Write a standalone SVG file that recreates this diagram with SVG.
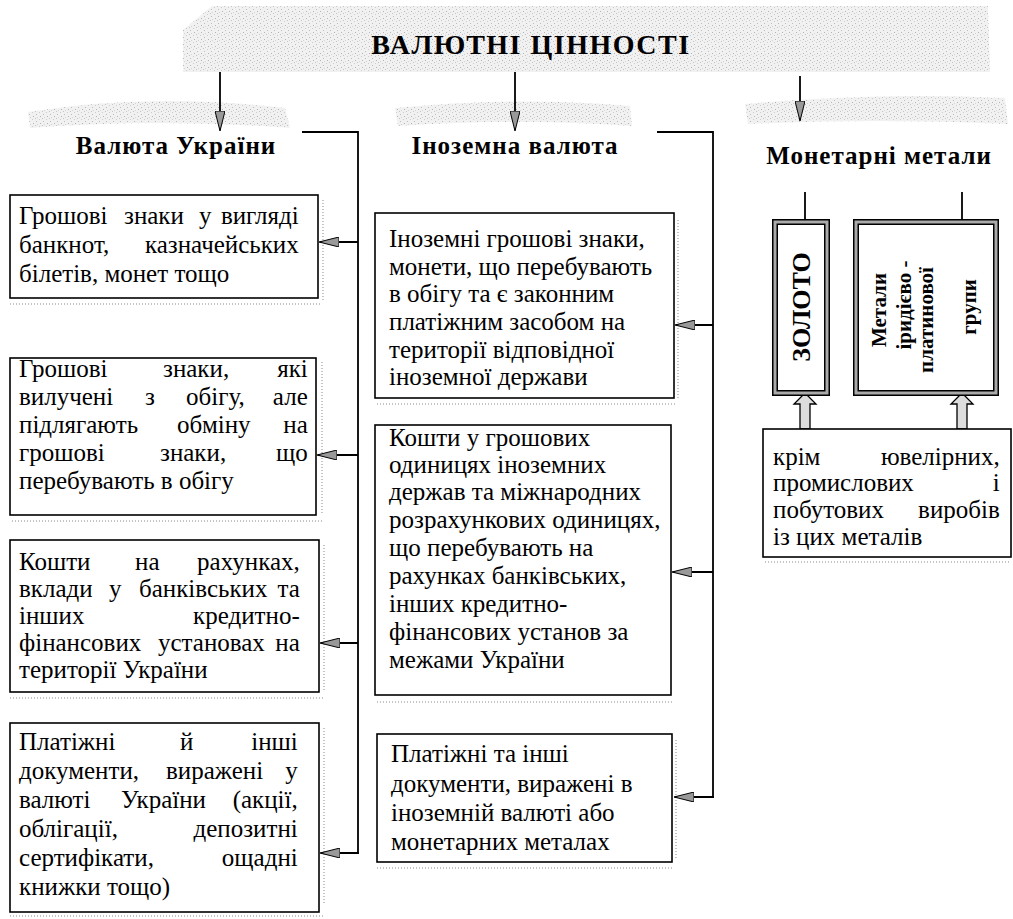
<svg xmlns="http://www.w3.org/2000/svg" width="1013" height="919" viewBox="0 0 1013 919">
<style>
.bg{fill:url(#noise)}
.box{fill:#fff;stroke:#000;stroke-width:1.6}
.t{font-family:"Liberation Serif","Times New Roman",serif;font-size:25px;fill:#000}
.tm{font-family:"Liberation Serif","Times New Roman",serif;font-size:25px;fill:#000}
.h{font-family:"Liberation Serif","Times New Roman",serif;font-size:25px;font-weight:bold;letter-spacing:1px;fill:#000}
.title{font-family:"Liberation Serif","Times New Roman",serif;font-size:28px;font-weight:bold;letter-spacing:1.5px;fill:#000}
.vt{font-family:"Liberation Serif","Times New Roman",serif;font-weight:bold;fill:#000}
.ln{fill:none;stroke:#000;stroke-width:1.8}
.e{text-anchor:end}
.m{text-anchor:middle}
.sh{fill:none;stroke:#c4c4c4;stroke-width:2;stroke-dasharray:1 2}
</style>
<defs>
<pattern id="noise" width="7" height="7" patternUnits="userSpaceOnUse">
<rect width="7" height="7" fill="#f1f1f1"/>
<rect x="1" y="2" width="1" height="1" fill="#bcbcbc"/>
<rect x="4" y="0" width="1" height="1" fill="#cccccc"/>
<rect x="5" y="4" width="1" height="1" fill="#b4b4b4"/>
<rect x="2" y="5" width="1" height="1" fill="#d4d4d4"/>
<rect x="0" y="6" width="1" height="1" fill="#c4c4c4"/>
</pattern>
<marker id="ah" viewBox="0 0 20 10" refX="19" refY="5" markerWidth="20" markerHeight="10" markerUnits="userSpaceOnUse" orient="auto">
<path d="M0,0 L20,5 L0,10 Z" fill="#999" stroke="#000" stroke-width="1"/>
</marker>
</defs>

<g id="backgrounds">
<path class="bg" d="M183,30 L212,6 L988,6 L990,72 L183,72 Z"/>
<path class="bg" d="M28,112 Q150,92 285,108 L290,128 Q160,118 30,128 Z"/>
<path class="bg" d="M395,108 Q520,96 630,106 L632,126 Q520,118 398,126 Z"/>
<path class="bg" d="M745,104 Q880,92 1005,98 L1008,124 Q880,118 748,124 Z"/>
<path class="sh" d="M10,304 H322 M12,521 H322 M10,698 H324 M10,916 H324 M323,200 V300 M322,362 V515 M324,545 V690 M324,728 V905 M377,404 H677 M377,702 H672 M377,868 H674 M678,220 V400 M676,740 V860 M765,562 H1011"/>
</g>

<g id="title">
<text class="title m" x="531" y="54">ВАЛЮТНІ ЦІННОСТІ</text>
</g>

<g id="connectors">
<line class="ln" x1="220" y1="72" x2="220" y2="130" marker-end="url(#ah)"/>
<line class="ln" x1="515" y1="72" x2="515" y2="130" marker-end="url(#ah)"/>
<line class="ln" x1="800" y1="76" x2="800" y2="120" marker-end="url(#ah)"/>
<polyline class="ln" points="302,132 358,132 358,853"/>
<line class="ln" x1="358" y1="242" x2="320" y2="242" marker-end="url(#ah)"/>
<line class="ln" x1="358" y1="455" x2="318" y2="455" marker-end="url(#ah)"/>
<line class="ln" x1="358" y1="643" x2="321" y2="643" marker-end="url(#ah)"/>
<line class="ln" x1="359" y1="853" x2="321" y2="853" marker-end="url(#ah)"/>
<polyline class="ln" points="657,132 713,132 713,797"/>
<line class="ln" x1="713" y1="325" x2="676" y2="325" marker-end="url(#ah)"/>
<line class="ln" x1="713" y1="572" x2="673" y2="572" marker-end="url(#ah)"/>
<line class="ln" x1="714" y1="797" x2="675" y2="797" marker-end="url(#ah)"/>
<line class="ln" x1="805" y1="192" x2="805" y2="222"/>
<line class="ln" x1="962" y1="192" x2="962" y2="222"/>
<path d="M800,429 L800,404 L794,404 L805,393 L816,404 L810,404 L810,429 Z" fill="#ddd" stroke="#000" stroke-width="1.3"/>
<path d="M957,429 L957,404 L951,404 L962,393 L973,404 L967,404 L967,429 Z" fill="#ddd" stroke="#000" stroke-width="1.3"/>
</g>

<g id="h-ukr"><text class="h m" x="176" y="154">Валюта України</text></g>
<g id="h-for"><text class="h m" x="515" y="154">Іноземна валюта</text></g>
<g id="h-met"><text class="h m" x="879" y="164">Монетарні метали</text></g>

<g id="l1">
<rect class="box" x="10" y="195" width="308" height="103"/>
<text class="t"><tspan x="19" y="224">Грошові</tspan><tspan x="124" y="224">знаки</tspan><tspan x="199" y="224">у</tspan><tspan class="e" x="305" y="224">вигляді</tspan>
<tspan x="19" y="253">банкнот,</tspan><tspan class="e" x="305" y="253">казначейських</tspan>
<tspan x="19" y="282">білетів, монет тощо</tspan></text>
</g>

<g id="l2">
<rect class="box" x="10" y="358" width="306" height="157"/>
<text class="t"><tspan x="19" y="377">Грошові</tspan><tspan x="163" y="377">знаки,</tspan><tspan class="e" x="314" y="377">які</tspan>
<tspan x="19" y="405">вилучені</tspan><tspan x="145" y="405">з</tspan><tspan x="186" y="405">обігу,</tspan><tspan class="e" x="314" y="405">але</tspan>
<tspan x="19" y="433">підлягають</tspan><tspan x="177" y="433">обміну</tspan><tspan class="e" x="314" y="433">на</tspan>
<tspan x="19" y="461">грошові</tspan><tspan x="160" y="461">знаки,</tspan><tspan class="e" x="314" y="461">що</tspan>
<tspan x="19" y="489">перебувають в обігу</tspan></text>
</g>

<g id="l3">
<rect class="box" x="10" y="540" width="309" height="152"/>
<text class="t"><tspan x="19" y="570">Кошти</tspan><tspan x="135" y="570">на</tspan><tspan class="e" x="306" y="570">рахунках,</tspan>
<tspan x="19" y="597">вклади</tspan><tspan x="109" y="597">у</tspan><tspan x="139" y="597">банківських</tspan><tspan class="e" x="306" y="597">та</tspan>
<tspan x="19" y="624">інших</tspan><tspan class="e" x="306" y="624">кредитно-</tspan>
<tspan x="19" y="651">фінансових</tspan><tspan x="158" y="651">установах</tspan><tspan class="e" x="306" y="651">на</tspan>
<tspan x="19" y="678">території України</tspan></text>
</g>

<g id="l4">
<rect class="box" x="10" y="723" width="309" height="189"/>
<text class="t"><tspan x="19" y="750">Платіжні</tspan><tspan x="180" y="750">й</tspan><tspan class="e" x="304" y="750">інші</tspan>
<tspan x="19" y="779">документи,</tspan><tspan x="166" y="779">виражені</tspan><tspan class="e" x="304" y="779">у</tspan>
<tspan x="19" y="808">валюті</tspan><tspan x="121" y="808">України</tspan><tspan class="e" x="304" y="808">(акції,</tspan>
<tspan x="19" y="837">облігації,</tspan><tspan class="e" x="304" y="837">депозитні</tspan>
<tspan x="19" y="866">сертифікати,</tspan><tspan class="e" x="304" y="866">ощадні</tspan>
<tspan x="19" y="895">книжки тощо)</tspan></text>
</g>

<g id="m1">
<rect class="box" x="375" y="213" width="299" height="185"/>
<text class="tm"><tspan x="389" y="247">Іноземні грошові знаки,</tspan>
<tspan x="389" y="275">монети, що перебувають</tspan>
<tspan x="389" y="302">в обігу та є законним</tspan>
<tspan x="389" y="330">платіжним засобом на</tspan>
<tspan x="389" y="358">території відповідної</tspan>
<tspan x="389" y="385">іноземної держави</tspan></text>
</g>

<g id="m2">
<rect class="box" x="375" y="425" width="296" height="270"/>
<text class="tm"><tspan x="389" y="446">Кошти у грошових</tspan>
<tspan x="389" y="473">одиницях іноземних</tspan>
<tspan x="389" y="500">держав та міжнародних</tspan>
<tspan x="389" y="528">розрахункових одиницях,</tspan>
<tspan x="389" y="556">що перебувають на</tspan>
<tspan x="389" y="584">рахунках банківських,</tspan>
<tspan x="389" y="612">інших кредитно-</tspan>
<tspan x="389" y="640">фінансових установ за</tspan>
<tspan x="389" y="668">межами України</tspan></text>
</g>

<g id="m3">
<rect class="box" x="377" y="734" width="295" height="128"/>
<text class="tm"><tspan x="391" y="762">Платіжні та інші</tspan>
<tspan x="391" y="792">документи, виражені в</tspan>
<tspan x="391" y="821">іноземній валюті або</tspan>
<tspan x="391" y="850">монетарних металах</tspan></text>
</g>

<g id="gold">
<rect x="775" y="222" width="52" height="171" fill="#fff" stroke="#000" stroke-width="6"/>
<rect x="775" y="222" width="52" height="171" fill="none" stroke="#aaa" stroke-width="3"/>
<text class="vt m" font-size="26" transform="translate(810,307) rotate(-90)">ЗОЛОТО</text>
</g>

<g id="pgm">
<rect x="856" y="222" width="140" height="171" fill="#fff" stroke="#000" stroke-width="6"/>
<rect x="856" y="222" width="140" height="171" fill="none" stroke="#aaa" stroke-width="3"/>
<text class="vt m" font-size="21" transform="translate(886,310) rotate(-90)">Метали</text>
<text class="vt m" font-size="21" transform="translate(911,305) rotate(-90)">іридієво -</text>
<text class="vt m" font-size="21" transform="translate(933,320) rotate(-90)">платинової</text>
<text class="vt m" font-size="21" transform="translate(976,307) rotate(-90)">групи</text>
</g>

<g id="except">
<rect class="box" x="763" y="429" width="248" height="128"/>
<text class="t"><tspan x="773" y="465">крім</tspan><tspan class="e" x="1006" y="465">ювелірних,</tspan>
<tspan x="773" y="491">промислових</tspan><tspan class="e" x="1006" y="491">і</tspan>
<tspan x="773" y="518">побутових</tspan><tspan class="e" x="1006" y="518">виробів</tspan>
<tspan x="773" y="545">із цих металів</tspan></text>
</g>
</svg>
